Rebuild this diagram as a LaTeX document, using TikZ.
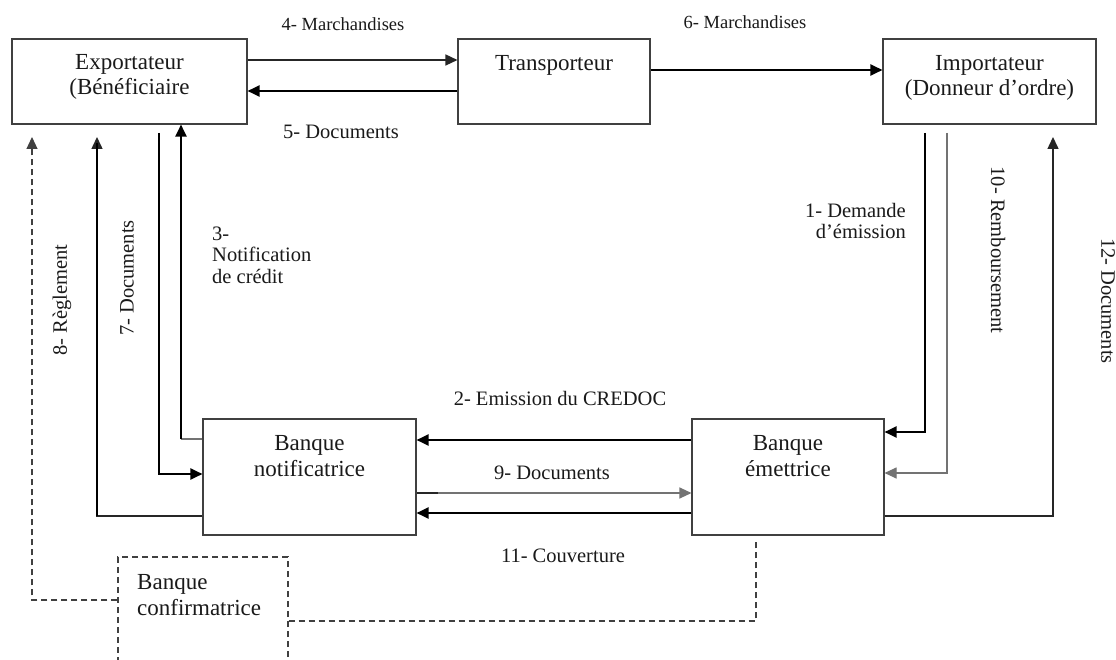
\documentclass[tikz,border=0pt]{standalone}
\usepackage{fontspec}
\setmainfont{Liberation Serif}
\usetikzlibrary{arrows.meta}
\definecolor{boxline}{HTML}{404040}
\definecolor{txt}{HTML}{1A1A1A}
\tikzset{
 box/.style={draw=boxline, line width=1.1pt, inner sep=0pt, fill=white},
 dashbox/.style={draw=boxline, line width=1.2pt, dash pattern=on 6pt off 4pt, inner sep=0pt},
 boxtext/.style={font=\fontsize{23}{25.5}\selectfont, text=txt, align=center, inner sep=0pt},
 lab/.style={font=\fontsize{20.5}{21.5}\selectfont, text=txt, inner sep=0pt},
 smalllab/.style={font=\fontsize{18.5}{20}\selectfont, text=txt, inner sep=0pt},
 tip/.style={-{Triangle[length=12pt,width=11pt]}},
 heavy/.style={line width=2.2pt, draw=black},
 medium/.style={line width=1.5pt, draw=black!85},
 light/.style={line width=1.1pt, draw=black!55},
 dashconn/.style={line width=1.2pt, draw=boxline, dash pattern=on 6pt off 4pt},
}
\begin{document}
\begin{tikzpicture}[x=1pt,y=-1pt]
\useasboundingbox (0,0) rectangle (1116,660);
\fill[white] (0,0) rectangle (1116,660);
\begin{scope}
\clip (0,0) rectangle (1116,660);
% boxes
\node[box, minimum width=235pt, minimum height=85pt] (exp) at (129.5,81.5) {};
\node[box, minimum width=192pt, minimum height=85pt] (trans) at (554,81.5) {};
\node[box, minimum width=213pt, minimum height=85pt] (imp) at (989.5,81.5) {};
\node[box, minimum width=213pt, minimum height=116pt] (notif) at (309.5,477) {};
\node[box, minimum width=192pt, minimum height=116pt] (emet) at (788,477) {};
\node[dashbox, minimum width=170pt, minimum height=140pt] (conf) at (203,627) {};
% box texts
\node[boxtext] (expT) at (129.5,77) {Exportateur\\(Bénéficiaire};
\node[boxtext] (transT) at (554,65) {Transporteur};
\node[boxtext] (impT) at (989.5,78) {Importateur\\(Donneur d’ordre)};
\node[boxtext] (notifT) at (309.5,456) {Banque\\notificatrice};
\node[boxtext] (emetT) at (788,456) {Banque\\émettrice};
\node[boxtext, align=left, anchor=west] (confT) at (137,595) {Banque\\confirmatrice};
% free ends
\coordinate (c1) at (925,133);
\coordinate (c10) at (947,133);
\coordinate (c12) at (1053,137);
\coordinate (c7) at (159,133);
\coordinate (c97) at (97,137);
\coordinate (c8) at (32,137);
\coordinate (cE) at (756,542);
\coordinate (c3) at (181,439);
% top connectors
\draw[medium, tip] (exp.east |- 0,60) -- (trans.west |- 0,60);
\draw[heavy, tip] (trans.west |- 0,91) -- (exp.east |- 0,91);
\draw[heavy, tip] (trans.east |- 0,70) -- (imp.west |- 0,70);
% bank connectors
\draw[heavy, tip] (emet.west |- 0,440) -- (notif.east |- 0,440);
\draw[light, tip] (notif.east |- 0,493) -- (emet.west |- 0,493);
\draw[medium] (notif.east |- 0,493) -- ++(21,0);
\draw[heavy, tip] (emet.west |- 0,513) -- (notif.east |- 0,513);
% right side
\draw[heavy, tip] (c1) |- (emet.east |- 0,432);
\draw[light, tip] (c10) |- (emet.east |- 0,473);
\draw[medium, tip] (emet.east |- 0,516) -| (c12);
% left side
\draw[light] (notif.west |- 0,439) -- (c3);
\draw[heavy, tip] (c3) -- (exp.south -| c3);
\draw[heavy, tip] (c7) |- (notif.west |- 0,474);
\draw[medium, tip] (notif.west |- 0,516) -| (c97);
\draw[heavy] (c97 |- 0,516) -- ([yshift=-6pt]c97);
% dashed
\draw[dashconn, tip] (conf.west |- 0,600) -| (c8);
\draw[dashconn] (conf.east |- 0,621) -| (cE);
% labels
\node[smalllab] (l4) at (343,24) {4- Marchandises};
\node[lab] (l5) at (341,132) {5- Documents};
\node[smalllab] (l6) at (745,22) {6- Marchandises};
\node[lab] (l2) at (560,398) {2- Emission du CREDOC};
\node[lab] (l9) at (552,473) {9- Documents};
\node[lab] (l11) at (563,556) {11- Couverture};
\node[lab, align=left, anchor=west] (l3) at (212,255) {3-\\Notification\\de crédit};
\node[lab, align=right, anchor=east] (l1) at (906,221) {1- Demande\\d’émission};
\node[lab, rotate=90] (l7) at (127,278) {7- Documents};
\node[lab, rotate=90] (l8) at (62,300) {8- Règlement};
\node[lab, rotate=-90] (l10) at (998,250) {10- Remboursement};
\node[lab, rotate=-90] (l12) at (1108,301) {12- Documents};
\end{scope}
\end{tikzpicture}
\end{document}
